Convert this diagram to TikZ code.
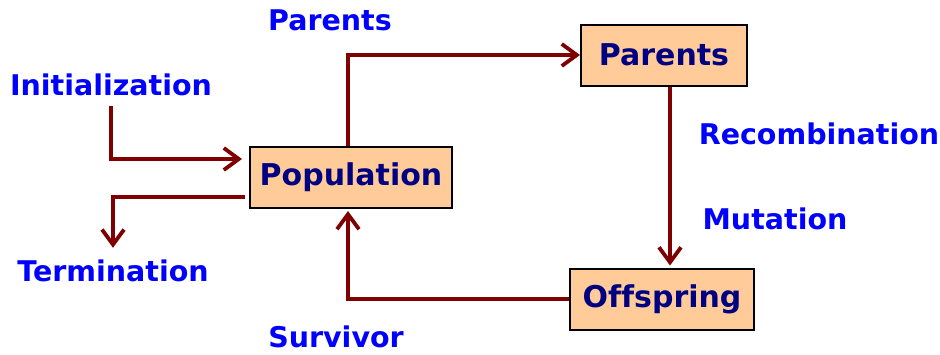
\documentclass[tikz,border=0pt]{standalone}
\usepackage{fontspec}
\setmainfont[Ligatures=NoCommon]{DejaVu Sans}
\usetikzlibrary{arrows.meta}
\definecolor{boxfill}{HTML}{FFCC99}
\definecolor{boxtext}{HTML}{000080}
\definecolor{flowred}{HTML}{800000}
\tikzset{
    stage/.style={draw=black, line width=2pt, fill=boxfill, text=boxtext,
        font=\fontsize{30}{35}\selectfont\bfseries, minimum height=61, inner sep=0},
    lbl/.style={text=blue, font=\fontsize{28.5}{33}\selectfont\bfseries, inner sep=0},
    flow/.style={draw=flowred, line width=3.8pt, -{Straight Barb[length=15pt,width=22pt]}}
}
\begin{document}
\begin{tikzpicture}[x=1pt, y=-1pt]
                    \useasboundingbox (0,0) rectangle (940,354);
                    \node[stage, minimum width=202] at (351, 177.5) (pop) {Population};
                    \node[stage, minimum width=166] at (664, 55) (par) {Parents};
                    \node[stage, minimum width=184] at (662, 299) (off) {Offspring};

                    \node[lbl] at (111, 85) (init) {Initialization};
                    \node[lbl] at (113, 271) (term) {Termination};
                    \node[lbl] at (330, 20) (sel) {Parents};
                    \node[lbl] at (819, 134) (recomb) {Recombination};
                    \node[lbl] at (775, 219) (mut) {Mutation};
                    \node[lbl] at (336, 337) (surv) {Survivor};

                    \draw[flow] ([yshift=-10pt]init.south) |- ([xshift=-7pt, yshift=18.5pt]pop.west);
                    \draw[flow] ([xshift=-4pt, yshift=-19.5pt]pop.west) -| ([yshift=12pt]term.north);
                    \draw[flow] ([xshift=-3pt]pop.north) |- (par.west);
                    \draw[flow, shorten >=2pt] ([xshift=6pt]par.south) -- ([xshift=6pt]par.south |- off.north);
                    % way back to the population
                    \draw[flow, shorten >=2pt] (off.west) -| ([xshift=-3pt]pop.south);
\end{tikzpicture}
\end{document}
